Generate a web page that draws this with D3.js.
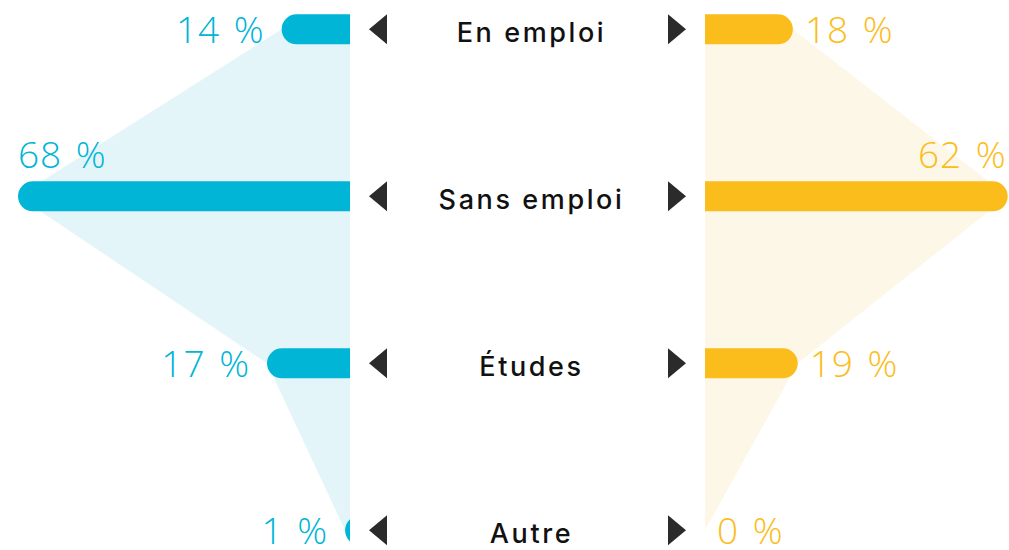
<!DOCTYPE html>
<html>
<head>
<meta charset="utf-8">
<script src="https://cdn.jsdelivr.net/npm/d3@7"></script>
<style>
  html, body { margin: 0; padding: 0; background: #fff; }
  svg { display: block; }
</style>
</head>
<body>
<svg id="chart" width="1009" height="550"></svg>
<script>
const categories = ["En emploi", "Sans emploi", "Études", "Autre"];
const leftValues = [14, 68, 17, 1];
const rightValues = [18, 62, 19, 0];
const leftColor = "#00b5d6", leftFill = "#e3f5f8";
const rightColor = "#fbbd1b", rightFill = "#fdf7e7";

const svg = d3.select("#chart");
const W = 1009, H = 550;
const axisL = 350, axisR = 705, cx = 530;
const maxV = d3.max(leftValues.concat(rightValues));
const xL = d3.scaleLinear().domain([0, maxV]).range([axisL, 18]);
const xR = d3.scaleLinear().domain([0, maxV]).range([axisR, axisR + (axisL - 18)]);
const y = d3.scalePoint().domain(categories).range([29.3, 530.3]);
const barH = 30, r = 15;

const defs = svg.append("defs");
defs.append("clipPath").attr("id", "clipL").append("rect")
  .attr("x", 0).attr("y", 0).attr("width", axisL).attr("height", H);
defs.append("clipPath").attr("id", "clipR").append("rect")
  .attr("x", axisR).attr("y", 0).attr("width", W - axisR).attr("height", H);

// background polygons
const ptsL = categories.map((c, i) => [xL(leftValues[i]), y(c)]);
ptsL.push([axisL, y(categories[categories.length - 1])]);
ptsL.push([axisL, y(categories[0])]);
svg.append("path").attr("d", d3.line()(ptsL) + "Z").attr("fill", leftFill);

const ptsR = categories.map((c, i) => [xR(rightValues[i]), y(c)]);
ptsR.push([axisR, y(categories[categories.length - 1])]);
ptsR.push([axisR, y(categories[0])]);
svg.append("path").attr("d", d3.line()(ptsR) + "Z").attr("fill", rightFill);

// bars
svg.append("g").attr("clip-path", "url(#clipL)")
  .selectAll("rect").data(categories).join("rect")
  .attr("x", (c, i) => xL(leftValues[i]))
  .attr("y", c => y(c) - barH / 2)
  .attr("width", (c, i) => axisL - xL(leftValues[i]) + 2 * r)
  .attr("height", barH).attr("rx", r).attr("ry", r)
  .attr("fill", leftColor);

svg.append("g").attr("clip-path", "url(#clipR)")
  .selectAll("rect").data(categories).join("rect")
  .attr("x", axisR - 2 * r)
  .attr("y", c => y(c) - barH / 2)
  .attr("width", (c, i) => xR(rightValues[i]) - axisR + 2 * r)
  .attr("height", barH).attr("rx", r).attr("ry", r)
  .attr("fill", rightColor);

// value labels
const valFont = "'Open Sans', Inter, sans-serif";
const ls = 1;
const fmt = v => v + " %";
function styleVal(sel, color) {
  sel.attr("font-family", valFont).attr("font-weight", 300).attr("font-size", 37)
    .attr("letter-spacing", ls).attr("word-spacing", 3)
    .attr("fill", color);
}
const lblL = svg.append("g").selectAll("text").data(categories).join("text")
  .call(styleVal, leftColor)
  .text((c, i) => fmt(leftValues[i]));
lblL.each(function (c, i) {
  const t = d3.select(this);
  const w = this.getComputedTextLength();
  const xe = xL(leftValues[i]);
  if (xe - 18 - w < 0) {
    t.attr("text-anchor", "start").attr("x", xe).attr("y", y(c) - 28);
  } else {
    t.attr("text-anchor", "end").attr("x", xe - 18 + ls).attr("y", y(c) + 13.5);
  }
});
const lblR = svg.append("g").selectAll("text").data(categories).join("text")
  .call(styleVal, rightColor)
  .text((c, i) => fmt(rightValues[i]));
lblR.each(function (c, i) {
  const t = d3.select(this);
  const w = this.getComputedTextLength();
  const xe = xR(rightValues[i]);
  if (xe + 12 + w > W) {
    t.attr("text-anchor", "end").attr("x", xe - 2 + ls).attr("y", y(c) - 28);
  } else {
    t.attr("text-anchor", "start").attr("x", xe + 12).attr("y", y(c) + 13.5);
  }
});

// triangles
svg.append("g").selectAll("path").data(categories).join("path")
  .attr("d", c => d3.line()([[369, y(c)], [387, y(c) - 15], [387, y(c) + 15]]) + "Z")
  .attr("fill", "#2b2b2b");
svg.append("g").selectAll("path").data(categories).join("path")
  .attr("d", c => d3.line()([[668, y(c) - 15], [686, y(c)], [668, y(c) + 15]]) + "Z")
  .attr("fill", "#2b2b2b");

// category labels
svg.append("g").selectAll("text").data(categories).join("text")
  .attr("x", cx + 1.5).attr("y", c => y(c) + 13)
  .attr("text-anchor", "middle")
  .attr("font-family", "Inter, 'Open Sans', sans-serif")
  .attr("font-weight", 500).attr("font-size", 27)
  .attr("letter-spacing", 2.6)
  .attr("fill", "#111")
  .text(c => c);
</script>
</body>
</html>
